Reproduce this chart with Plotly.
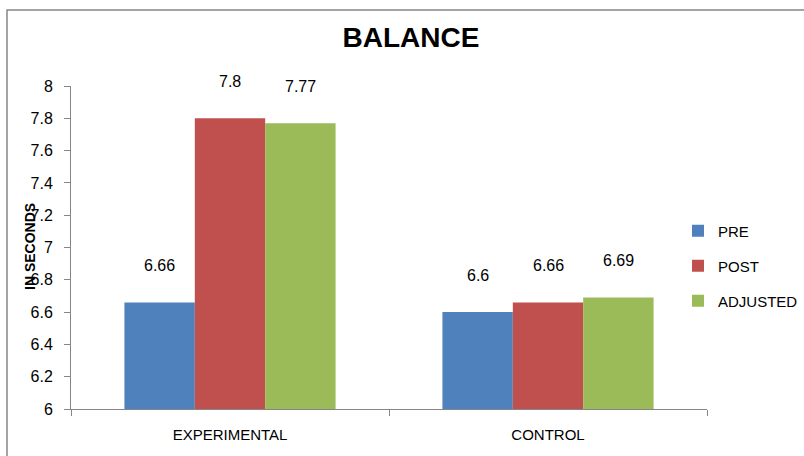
import plotly.graph_objects as go

# Balance test results (seconds) by group
groups = ["EXPERIMENTAL", "CONTROL"]
series_names = ["PRE", "POST", "ADJUSTED"]
pre = [6.66, 6.6]
post = [7.8, 6.66]
adjusted = [7.77, 6.69]
y_ticks = [6, 6.2, 6.4, 6.6, 6.8, 7, 7.2, 7.4, 7.6, 7.8, 8]

colors = ["#4F81BD", "#C0504D", "#9BBB59"]
FONT = "Liberation Sans, Arial, sans-serif"

W, H = 804, 456
L, R, T, B = 71, 97, 86, 47
plot_w = W - L - R
plot_h = H - T - B

bargap = 0.336
bar_w = (1 - bargap) / 3

fig = go.Figure()
for i, (name, vals) in enumerate(zip(series_names, [pre, post, adjusted])):
    fig.add_trace(go.Bar(
        x=groups, y=vals, name=name, legendgroup=name,
        marker=dict(color=colors[i], line=dict(width=0)),
    ))
    # value labels above each bar
    for gi, v in enumerate(vals):
        fig.add_annotation(
            x=gi + (i - 1) * bar_w, y=v, xref="x", yref="y",
            text=f"{v:g}", showarrow=False, yshift=37,
            font=dict(size=16, color="#000000", family=FONT),
        )

def px_x(p):
    return (p - L) / plot_w

def px_y(p):
    return (H - B - p) / plot_h

# outer chart frame
fig.add_shape(type="rect", xref="paper", yref="paper",
              x0=px_x(7), x1=px_x(W + 20), y0=px_y(H + 20), y1=px_y(10),
              line=dict(color="#868686", width=1.5), fillcolor="rgba(0,0,0,0)",
              layer="below")

# y-axis caption
fig.add_annotation(x=px_x(30), y=px_y(247), xref="paper", yref="paper",
                   xanchor="center", yanchor="middle",
                   text="<b>IN SECONDS</b>", textangle=-90, showarrow=False,
                   font=dict(size=14, color="#000000", family=FONT))

fig.update_layout(
    width=W, height=H,
    margin=dict(l=L, r=R, t=T, b=B, pad=0, autoexpand=False),
    paper_bgcolor="white", plot_bgcolor="white",
    barmode="group", bargap=bargap, bargroupgap=0,
    title=dict(text="<b>BALANCE</b>", x=411 / W,
               xanchor="center", y=1 - 37 / H, yanchor="middle",
               font=dict(size=28, color="#000000", family=FONT)),
    font=dict(family=FONT, size=15, color="#000000"),
    legend=dict(x=px_x(678), y=px_y(266), xanchor="left", yanchor="middle",
                tracegroupgap=12.5, font=dict(size=15, family=FONT),
                bgcolor="rgba(0,0,0,0)", itemclick=False),
    showlegend=True,
)
fig.update_xaxes(
    showline=True, linecolor="#868686", linewidth=1,
    ticks="outside", tickson="boundaries", ticklen=6, tickcolor="#868686",
    showgrid=False, tickfont=dict(size=15, family=FONT),
    ticklabelstandoff=12, automargin=False,
)
fig.update_yaxes(
    range=[6, 8], tickvals=y_ticks, ticktext=[f"{t:g}" for t in y_ticks],
    showline=True, linecolor="#868686", linewidth=1,
    ticks="outside", ticklen=6, tickcolor="#868686",
    showgrid=False, zeroline=False, tickfont=dict(size=16, family=FONT),
    ticklabelstandoff=8, automargin=False,
)

fig.write_html("out.html")
